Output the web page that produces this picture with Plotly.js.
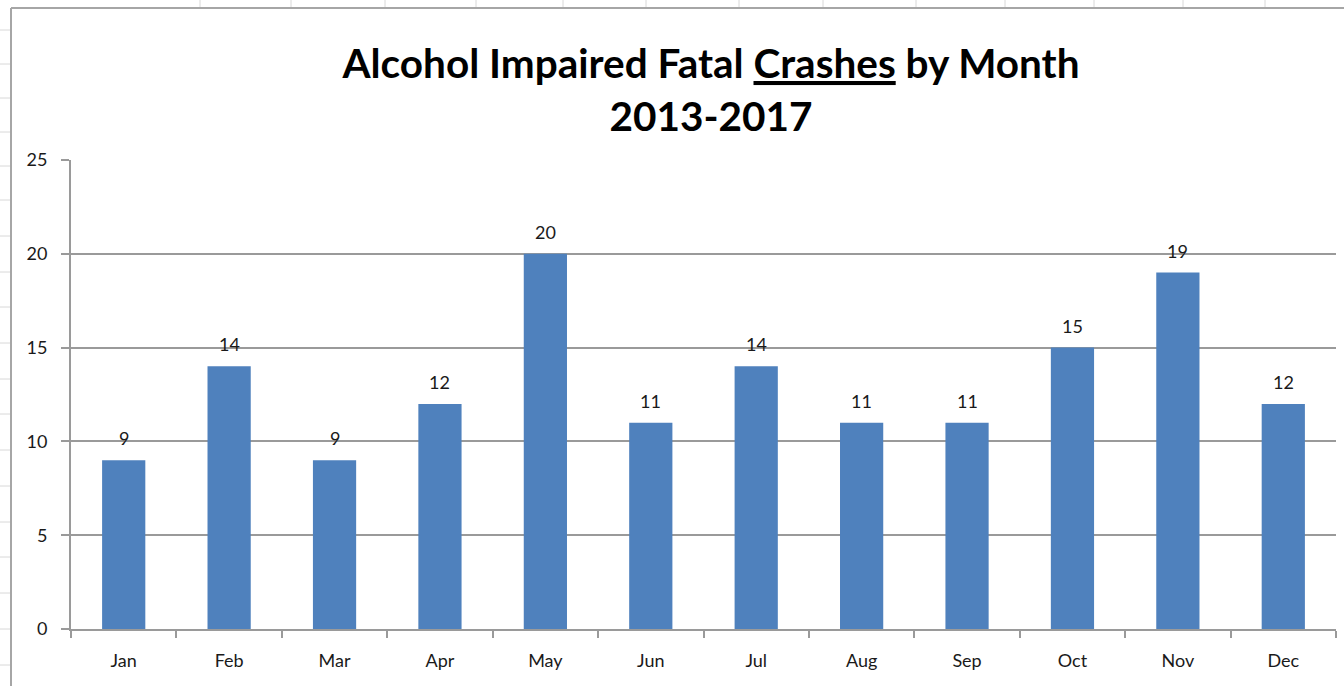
<!DOCTYPE html>
<html>
<head>
<meta charset="utf-8">
<script src="https://cdn.plot.ly/plotly-3.0.1.min.js"></script>
<style>
  html, body { margin: 0; padding: 0; background: #ffffff; }
  #chart { width: 1344px; height: 686px; }
</style>
</head>
<body>
<div id="chart"></div>
<script>
// ---- data ----
const months = ["Jan", "Feb", "Mar", "Apr", "May", "Jun", "Jul", "Aug", "Sep", "Oct", "Nov", "Dec"];
const crashes = [9, 14, 9, 12, 20, 11, 14, 11, 11, 15, 19, 12];
const yTicks = [0, 5, 10, 15, 20, 25];
const titleText = "Alcohol Impaired Fatal <u>Crashes</u> by Month<br>2013-2017";

// ---- layout geometry (pixels) ----
const W = 1344, H = 686;
const plotL = 71, plotR = 1336, plotT = 160, plotB = 629;
const pw = plotR - plotL, ph = plotB - plotT;
const px = v => (v - plotL) / pw;
const py = v => (plotB - v) / ph;

// spreadsheet background grid (decoration behind the chart object)
const sheetCols = [200, 291, 385, 476, 563, 646, 739, 823, 916, 1005, 1094, 1183, 1265];
const sheetRows = [30, 64, 98, 132, 166, 200, 236, 272, 307, 343, 379, 414, 450, 486, 522, 557, 593, 629, 665];
const frameX = 11, frameY = 8;

const shapes = [];
sheetCols.forEach(c => shapes.push({
  type: "line", xref: "paper", yref: "paper", layer: "below",
  x0: px(c), x1: px(c), y0: py(0), y1: py(frameY - 1),
  line: { color: "#d8d8d8", width: 1 }
}));
sheetRows.forEach(r => shapes.push({
  type: "line", xref: "paper", yref: "paper", layer: "below",
  x0: px(0), x1: px(frameX - 1), y0: py(r), y1: py(r),
  line: { color: "#d8d8d8", width: 1 }
}));
// chart object frame
shapes.push({
  type: "line", xref: "paper", yref: "paper",
  x0: px(frameX), x1: px(W + 5), y0: py(frameY), y1: py(frameY),
  line: { color: "#a6a6a6", width: 2 }
});
shapes.push({
  type: "line", xref: "paper", yref: "paper",
  x0: px(frameX), x1: px(frameX), y0: py(frameY), y1: py(H + 5),
  line: { color: "#a6a6a6", width: 2 }
});

const labelFont = { family: "Lato, 'Open Sans', sans-serif", size: 18, color: "#1a1a1a" };

const annotations = months.map((m, i) => ({
  x: m, y: crashes[i], xref: "x", yref: "y",
  text: String(crashes[i]), showarrow: false,
  yanchor: "bottom", yshift: 9,
  font: labelFont
}));

const trace = {
  type: "bar",
  x: months,
  y: crashes,
  width: 0.41,
  marker: { color: "#4f81bd", line: { width: 0 } },
  hoverinfo: "x+y"
};

const lineCol = "#9a9a9a";

const layout = {
  width: W, height: H,
  margin: { l: plotL, r: W - plotR, t: plotT, b: H - plotB, pad: 0 },
  paper_bgcolor: "#ffffff",
  plot_bgcolor: "rgba(0,0,0,0)",
  showlegend: false,
  title: {
    text: titleText,
    font: { family: "Lato, 'Open Sans', sans-serif", size: 40.5, color: "#000000", weight: "bold" },
    x: 711 / W, xref: "container", xanchor: "center",
    y: 1 - 78 / H, yref: "container", yanchor: "top"
  },
  xaxis: {
    type: "category",
    tickson: "boundaries",
    ticks: "outside", ticklen: 7, tickwidth: 2, tickcolor: lineCol,
    showline: true, linecolor: lineCol, linewidth: 2,
    showgrid: false, zeroline: false,
    tickfont: labelFont,
    ticklabelstandoff: 14,
    fixedrange: true
  },
  yaxis: {
    range: [0, 25],
    tickvals: yTicks,
    ticktext: yTicks.map(String),
    ticks: "outside", ticklen: 8, tickwidth: 2, tickcolor: lineCol,
    showline: true, linecolor: lineCol, linewidth: 2,
    showgrid: true, gridcolor: lineCol, gridwidth: 2,
    zeroline: false,
    tickfont: labelFont,
    ticklabelstandoff: 10,
    fixedrange: true
  },
  shapes: shapes,
  annotations: annotations
};

Plotly.newPlot("chart", [trace], layout, { displayModeBar: false, staticPlot: true });
</script>
</body>
</html>
